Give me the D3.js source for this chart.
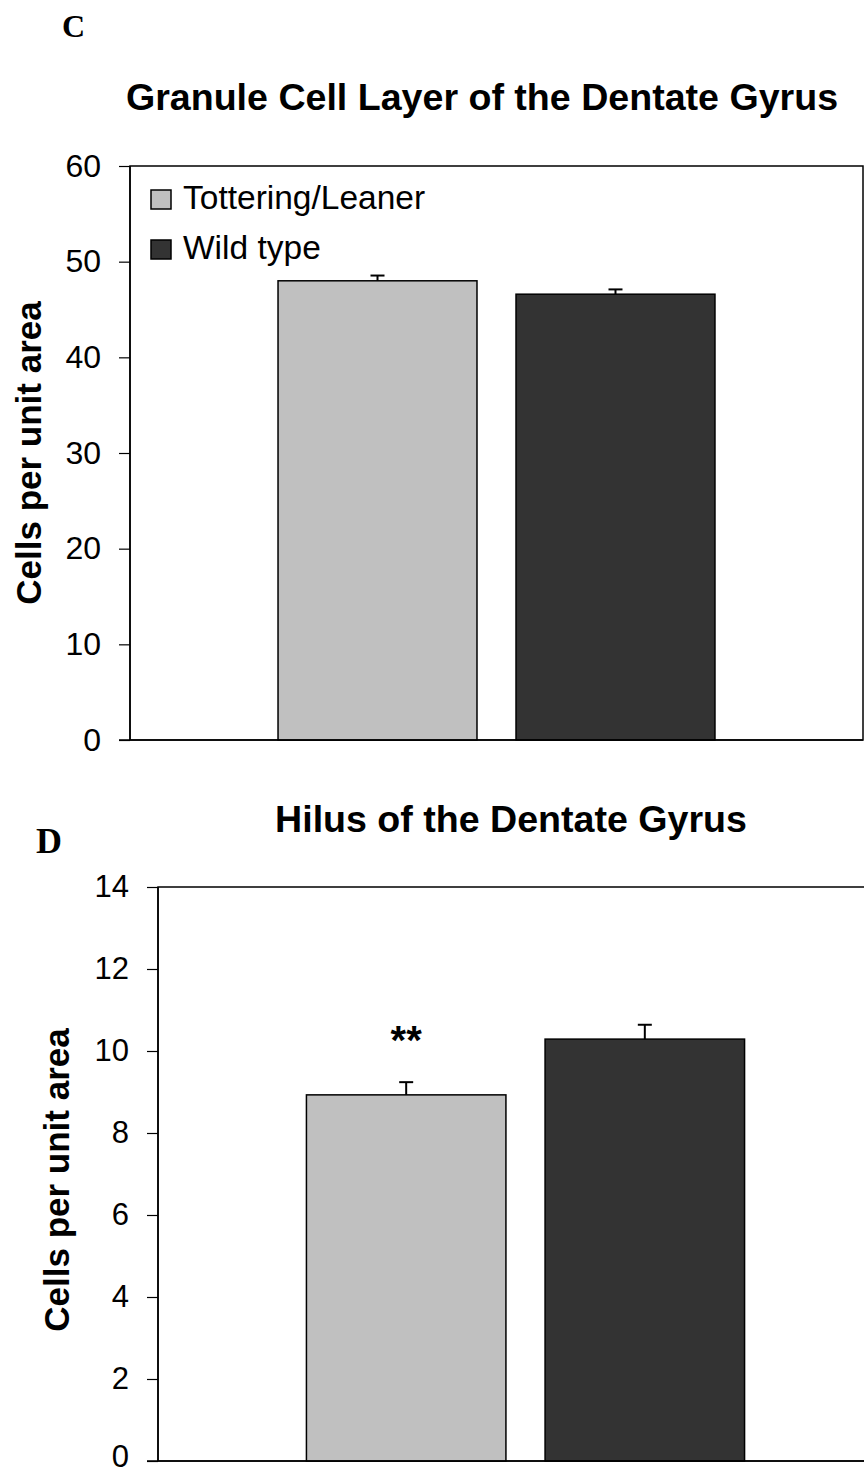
<!DOCTYPE html>
<html>
<head>
<meta charset="utf-8">
<script src="https://cdn.jsdelivr.net/npm/d3@7"></script>
<style>
  html, body { margin: 0; padding: 0; background: #fff; }
  svg { display: block; }
</style>
</head>
<body>
<svg id="chart" width="864" height="1475"></svg>
<script>
// ---- data ----
const seriesNames = ["Tottering/Leaner", "Wild type"];
const seriesColors = ["#c0c0c0", "#333333"];

const granuleTitle = "Granule Cell Layer of the Dentate Gyrus";
const granuleValues = [48.0, 46.6];
const granuleErrors = [0.55, 0.5];
const granuleTicks = [0, 10, 20, 30, 40, 50, 60];
const granuleMarks = ["", ""];

const hilusTitle = "Hilus of the Dentate Gyrus";
const hilusValues = [8.93, 10.29];
const hilusErrors = [0.31, 0.35];
const hilusTicks = [0, 2, 4, 6, 8, 10, 12, 14];
const hilusMarks = ["**", ""];

const yAxisTitle = "Cells per unit area";

// ---- drawing ----
const svg = d3.select("#chart");
const FONT = "Liberation Sans, Arial, Helvetica, sans-serif";
const SERIF = "Liberation Serif, Times New Roman, serif";

function drawPanel(opt) {
  const g = svg.append("g");
  const y = d3.scaleLinear()
    .domain([0, d3.max(opt.ticks)])
    .range([opt.bottom, opt.top]);
  const x = d3.scaleBand()
    .domain(seriesNames)
    .range([opt.left, opt.right])
    .paddingInner(0.164)
    .paddingOuter(0.622);

  // plot frame (top & right)
  g.append("rect")
    .attr("x", opt.left).attr("y", opt.top)
    .attr("width", opt.right - opt.left).attr("height", opt.bottom - opt.top)
    .attr("fill", "none").attr("stroke", "#000").attr("stroke-width", 1.5);

  // bars
  g.selectAll("rect.bar").data(opt.values).join("rect")
    .attr("class", "bar")
    .attr("x", (d, i) => x(seriesNames[i]))
    .attr("y", d => y(d))
    .attr("width", x.bandwidth())
    .attr("height", d => y(0) - y(d))
    .attr("fill", (d, i) => seriesColors[i])
    .attr("stroke", "#000").attr("stroke-width", 1.5);

  // error bars (upper only)
  const cx = i => x(seriesNames[i]) + x.bandwidth() / 2;
  g.selectAll("line.err").data(opt.values).join("line")
    .attr("class", "err")
    .attr("x1", (d, i) => cx(i)).attr("x2", (d, i) => cx(i))
    .attr("y1", d => y(d))
    .attr("y2", (d, i) => y(d + opt.errors[i]))
    .attr("stroke", "#000").attr("stroke-width", 2);
  g.selectAll("line.cap").data(opt.values).join("line")
    .attr("class", "cap")
    .attr("x1", (d, i) => cx(i) - 7).attr("x2", (d, i) => cx(i) + 7)
    .attr("y1", (d, i) => y(d + opt.errors[i]))
    .attr("y2", (d, i) => y(d + opt.errors[i]))
    .attr("stroke", "#000").attr("stroke-width", 2);

  // significance marks
  g.selectAll("text.mark").data(opt.marks).join("text")
    .attr("class", "mark")
    .attr("x", (d, i) => cx(i))
    .attr("y", (d, i) => y(opt.values[i] + opt.errors[i]) - 28)
    .attr("text-anchor", "middle")
    .attr("font-family", FONT).attr("font-weight", "bold")
    .attr("font-size", 40)
    .text(d => d);

  // y axis
  const axis = d3.axisLeft(y).tickValues(opt.ticks).tickSize(11).tickPadding(18)
    .tickFormat(d3.format("d"));
  const ag = g.append("g").attr("transform", `translate(${opt.left},0)`).call(axis);
  ag.select(".domain").attr("stroke", "#000").attr("stroke-width", 1.5)
    .attr("d", `M0,${opt.top}V${opt.bottom}`);
  ag.selectAll(".tick line").attr("stroke", "#000").attr("stroke-width", 1.2);
  ag.selectAll(".tick text")
    .attr("font-family", FONT).attr("font-size", opt.tickFont).attr("fill", "#000");
  if (opt.zeroShift) {
    ag.selectAll(".tick text").filter(d => d === 0)
      .attr("y", -opt.zeroShift);
  }

  // x baseline
  g.append("line")
    .attr("x1", opt.left - 11).attr("x2", opt.right)
    .attr("y1", y(0)).attr("y2", y(0))
    .attr("stroke", "#000").attr("stroke-width", 1.5);

  // y title
  g.append("text")
    .attr("transform", `translate(${opt.yTitleX},${opt.yTitleY}) rotate(-90)`)
    .attr("text-anchor", "middle")
    .attr("font-family", FONT).attr("font-weight", "bold")
    .attr("font-size", opt.yTitleFont)
    .text(yAxisTitle);

  // title
  g.append("text")
    .attr("x", opt.titleX).attr("y", opt.titleY)
    .attr("text-anchor", "middle")
    .attr("font-family", FONT).attr("font-weight", "bold")
    .attr("font-size", opt.titleFont)
    .text(opt.title);

  // panel letter
  g.append("text")
    .attr("x", opt.letterX).attr("y", opt.letterY)
    .attr("font-family", SERIF).attr("font-weight", "bold")
    .attr("font-size", opt.letterFont)
    .text(opt.letter);

  return g;
}

drawPanel({
  left: 130, right: 863, top: 166, bottom: 740,
  ticks: granuleTicks, values: granuleValues, errors: granuleErrors, marks: granuleMarks,
  tickFont: 32, yTitleX: 41, yTitleY: 453, yTitleFont: 35,
  title: granuleTitle, titleX: 482, titleY: 110, titleFont: 37.6,
  letter: "C", letterX: 62, letterY: 37, letterFont: 32
});

// legend (in top panel)
const legend = svg.append("g");
seriesNames.forEach((name, i) => {
  const yy = 190 + i * 50;
  legend.append("rect")
    .attr("x", 151).attr("y", yy).attr("width", 20).attr("height", 19)
    .attr("fill", seriesColors[i]).attr("stroke", "#000").attr("stroke-width", 1.5);
  legend.append("text")
    .attr("x", 183).attr("y", yy + 19)
    .attr("font-family", FONT).attr("font-size", 33.5)
    .text(name);
});

drawPanel({
  left: 158, right: 893, top: 887, bottom: 1461,
  ticks: hilusTicks, values: hilusValues, errors: hilusErrors, marks: hilusMarks,
  tickFont: 31, yTitleX: 69, yTitleY: 1180, yTitleFont: 35, zeroShift: 4,
  title: hilusTitle, titleX: 511, titleY: 832, titleFont: 37.6,
  letter: "D", letterX: 36, letterY: 853, letterFont: 36
});
</script>
</body>
</html>
